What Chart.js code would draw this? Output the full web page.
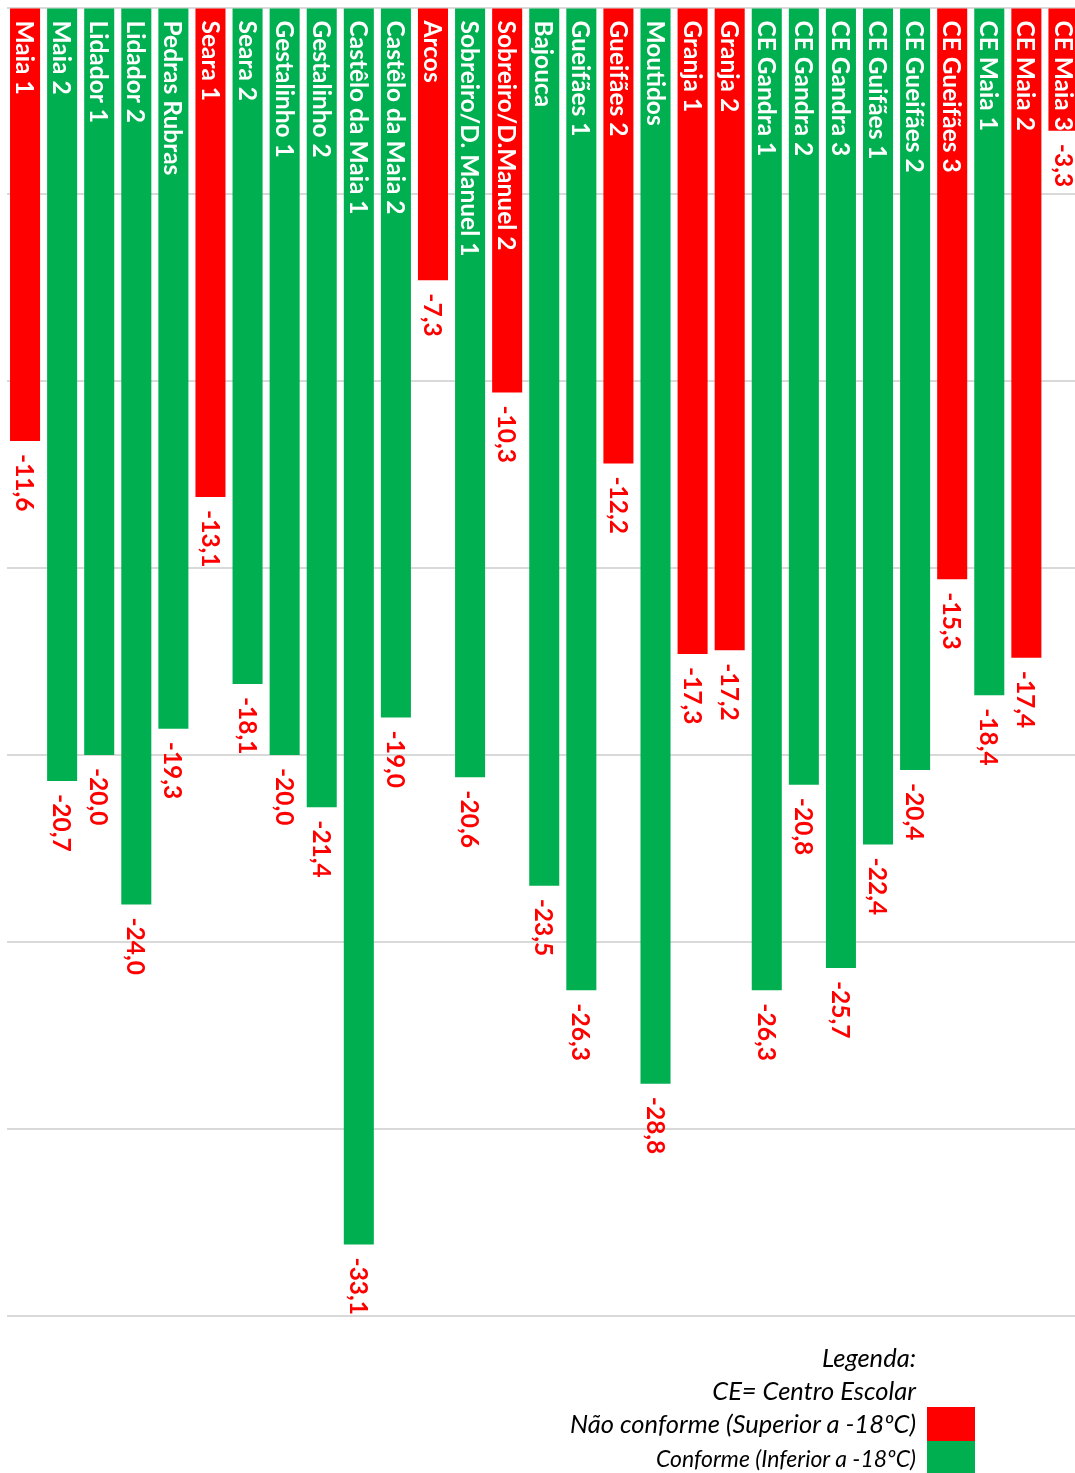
<!DOCTYPE html>
<html>
<head>
<meta charset="utf-8">
<script src="https://cdn.jsdelivr.net/npm/chart.js@4/dist/chart.umd.min.js"></script>
<style>
html,body{margin:0;padding:0;background:#fff;overflow:hidden;width:1075px;height:1473px;}
#wrap{position:relative;width:1075px;height:1473px;overflow:hidden;background:#fff;}
#c{position:absolute;left:0;top:0;}
.leg{position:absolute;right:159px;font-family:Lato,"Open Sans",sans-serif;font-style:italic;color:#000;white-space:nowrap;text-align:right;line-height:1.2;}
.box{position:absolute;left:927px;width:48px;}
</style>
</head>
<body>
<div id="wrap">
<canvas id="c" width="1082" height="1473" style="width:1082px;height:1473px"></canvas>
<div class="leg" style="top:1341.5px;font-size:25.5px;">Legenda:</div>
<div class="leg" style="top:1375px;font-size:25.5px;">CE= Centro Escolar</div>
<div class="leg" style="top:1408px;font-size:25.5px;">Não conforme (Superior a -18ºC)</div>
<div class="leg" style="top:1445px;font-size:23px;">Conforme (Inferior a -18ºC)</div>
<div class="box" style="top:1407px;height:34px;background:#FF0000;"></div>
<div class="box" style="top:1441px;height:32px;background:#00B050;"></div>
</div>
<script>
const categories = [
  "Maia 1", "Maia 2", "Lidador 1", "Lidador 2", "Pedras Rubras",
  "Seara 1", "Seara 2", "Gestalinho 1", "Gestalinho 2",
  "Castêlo da Maia 1", "Castêlo da Maia 2", "Arcos",
  "Sobreiro/D. Manuel 1", "Sobreiro/D.Manuel 2", "Bajouca",
  "Gueifães 1", "Gueifães 2", "Moutidos", "Granja 1", "Granja 2",
  "CE Gandra 1", "CE Gandra 2", "CE Gandra 3", "CE Guifães 1",
  "CE Gueifães 2", "CE Gueifães 3", "CE Maia 1", "CE Maia 2", "CE Maia 3"
];
const temperatures = [
  -11.6, -20.7, -20.0, -24.0, -19.3,
  -13.1, -18.1, -20.0, -21.4,
  -33.1, -19.0, -7.3,
  -20.6, -10.3, -23.5,
  -26.3, -12.2, -28.8, -17.3, -17.2,
  -26.3, -20.8, -25.7, -22.4,
  -20.4, -15.3, -18.4, -17.4, -3.3
];
const threshold = -18;
const yMin = -35, yMax = 0, yStep = 5;

const RED = "#FF0000", GREEN = "#00B050";

const labelPlugin = {
  id: "barLabels",
  afterDatasetsDraw(chart) {
    const ctx = chart.ctx;
    const meta = chart.getDatasetMeta(0);
    const zeroY = chart.scales.y.getPixelForValue(0);
    meta.data.forEach((bar, i) => {
      ctx.save();
      ctx.translate(bar.x, zeroY + 13);
      ctx.rotate(Math.PI / 2);
      ctx.font = "bold 24.5px Lato";
      ctx.fillStyle = "#FFFFFF";
      ctx.textAlign = "left";
      ctx.textBaseline = "middle";
      ctx.fillText(categories[i], 0, 1);
      ctx.restore();

      ctx.save();
      ctx.translate(bar.x, bar.y + 13);
      ctx.rotate(Math.PI / 2);
      ctx.font = "bold 24.5px Lato";
      ctx.fillStyle = RED;
      ctx.textAlign = "left";
      ctx.textBaseline = "middle";
      ctx.fillText(temperatures[i].toFixed(1).replace(".", ","), 0, 1);
      ctx.restore();
    });
  }
};

new Chart(document.getElementById("c"), {
  type: "bar",
  data: {
    labels: categories,
    datasets: [{
      data: temperatures,
      backgroundColor: temperatures.map(v => v > threshold ? RED : GREEN),
      borderWidth: 0,
      barPercentage: 0.81,
      categoryPercentage: 1
    }]
  },
  options: {
    responsive: false,
    animation: false,
    layout: { padding: { left: 6.5, right: 0, top: 7.5, bottom: 157.5 } },
    plugins: { legend: { display: false }, tooltip: { enabled: false } },
    scales: {
      x: { display: false },
      y: {
        min: yMin, max: yMax,
        ticks: { display: false, stepSize: yStep },
        grid: { color: "#D9D9D9", lineWidth: 2, drawTicks: false },
        border: { display: false },
        afterFit(s) { s.width = 0; }
      }
    }
  },
  plugins: [labelPlugin]
});
</script>
</body>
</html>
